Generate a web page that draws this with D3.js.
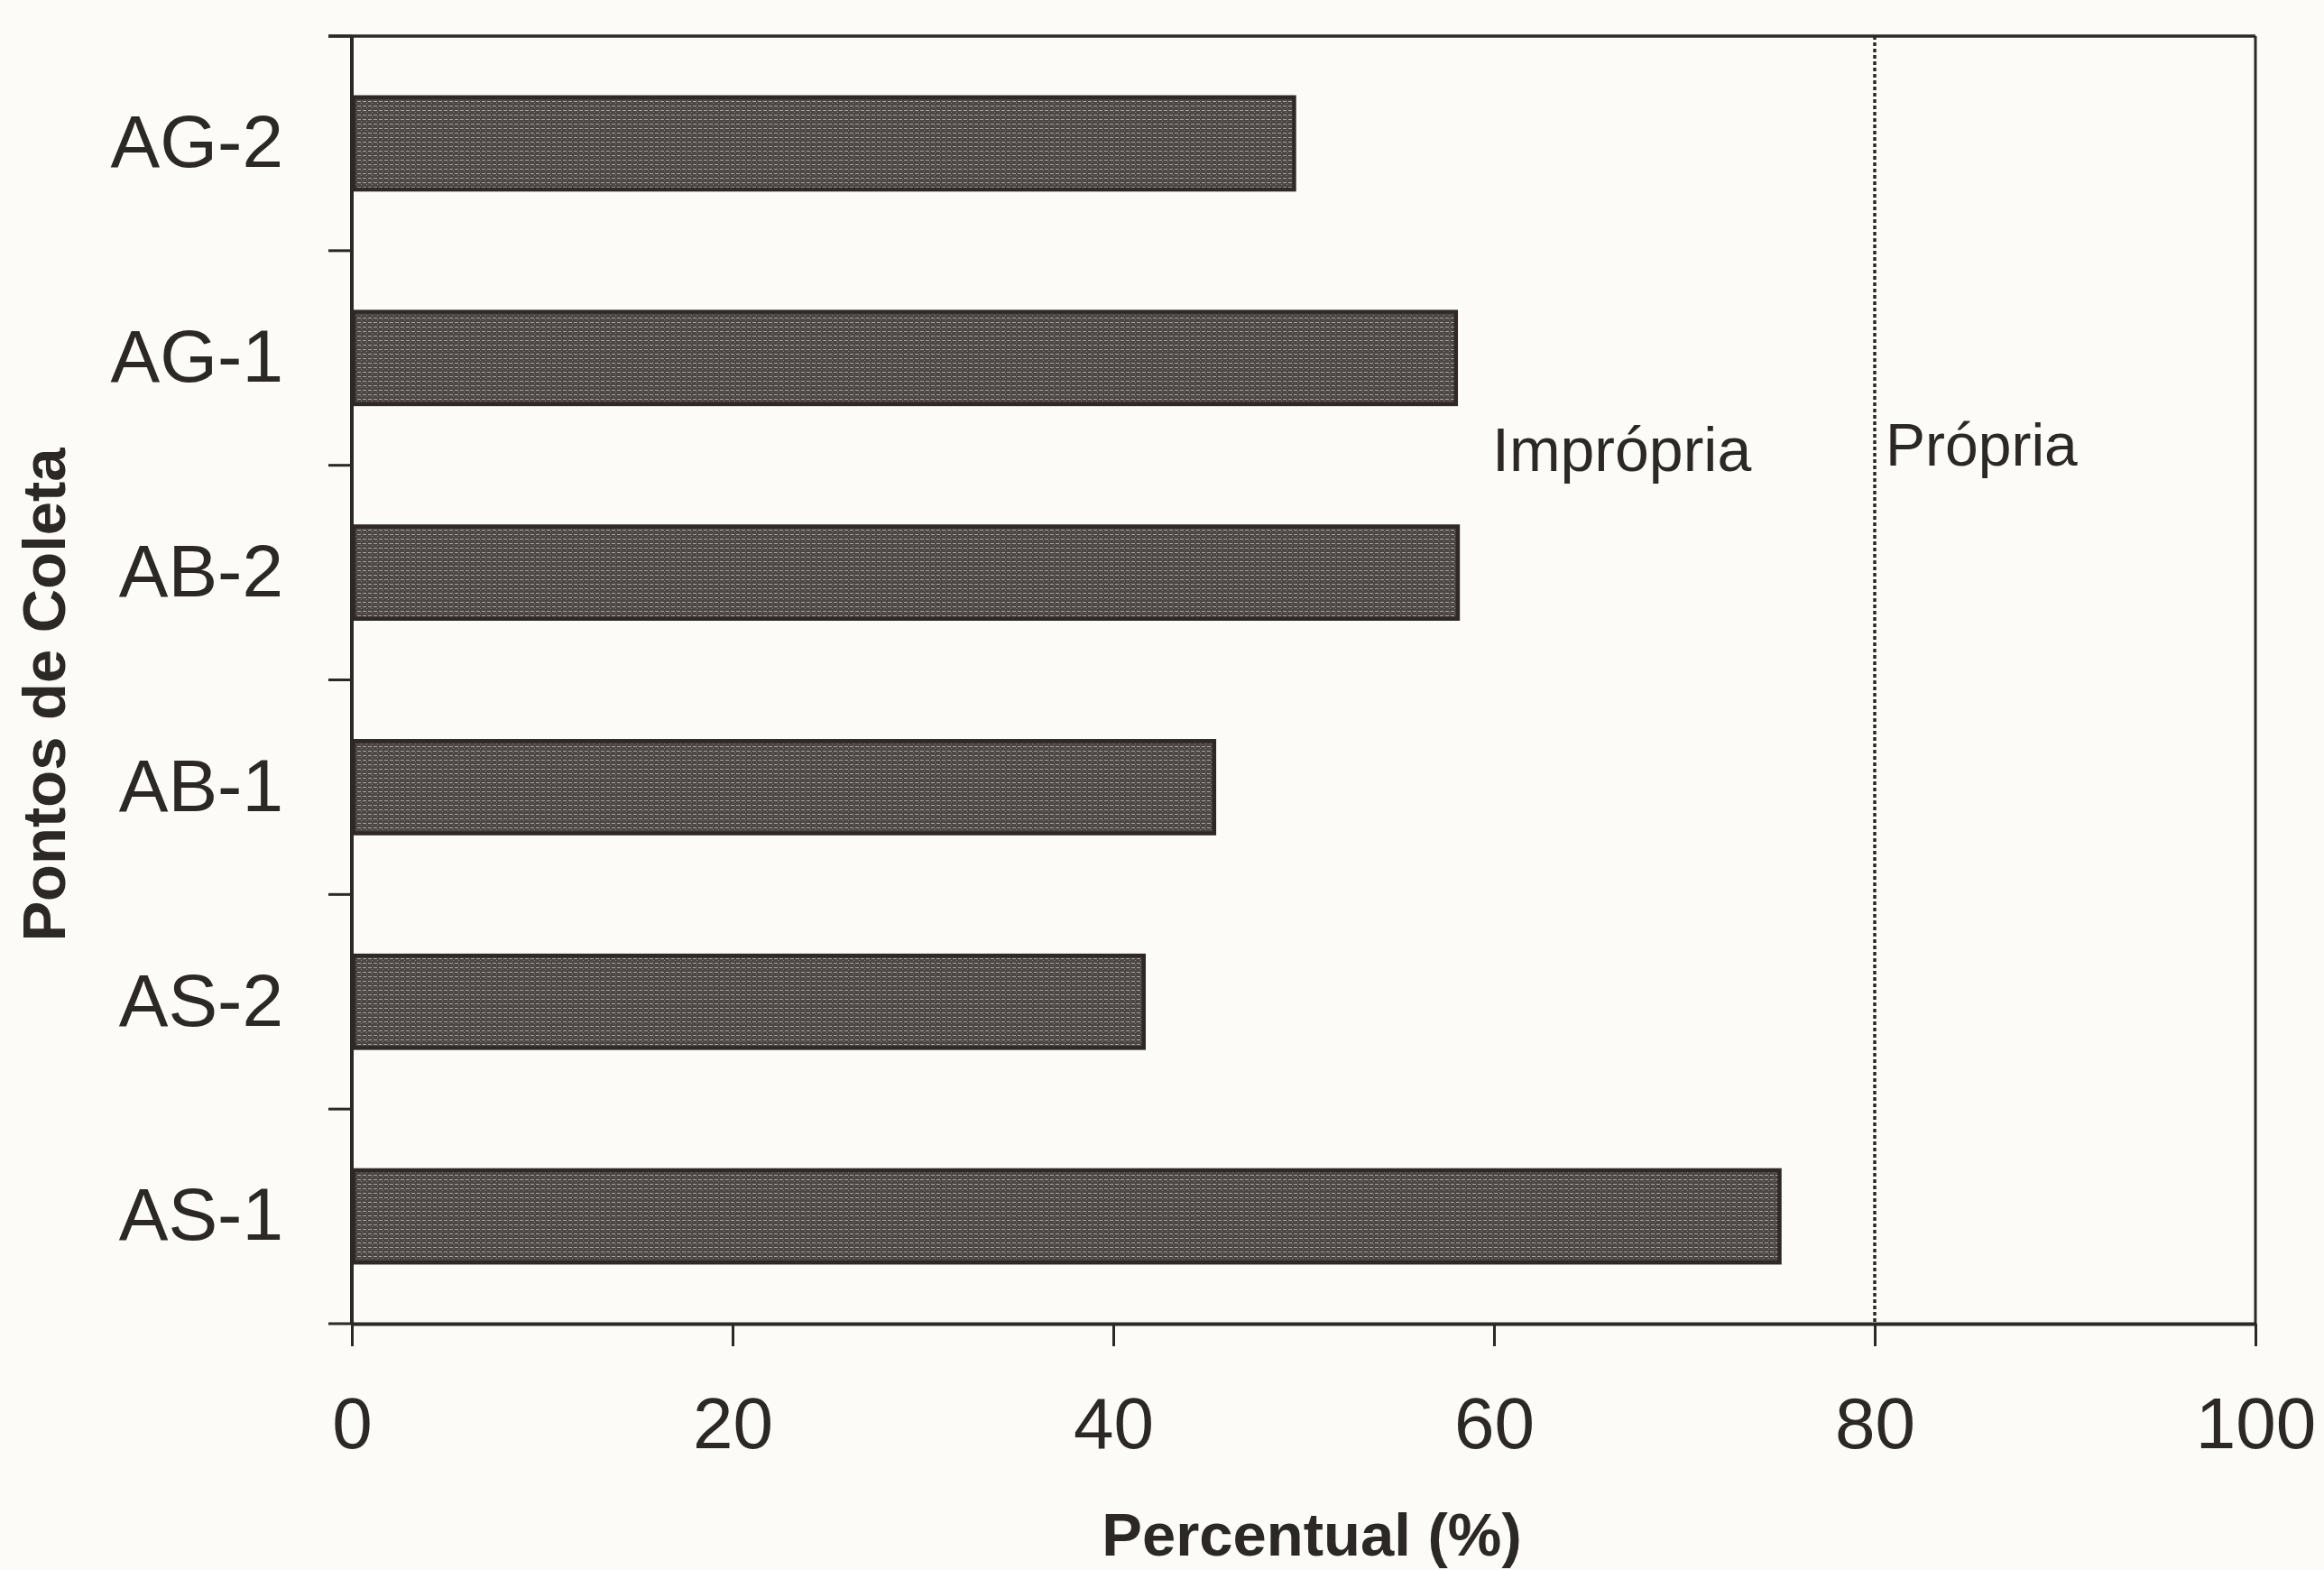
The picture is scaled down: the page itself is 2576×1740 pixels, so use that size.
<!DOCTYPE html>
<html lang="pt">
	<head>
		<meta charset="utf-8">
		<title>Pontos de Coleta - Percentual</title>
		<script type="text/javascript" src="https://d3js.org/d3.v7.min.js"></script>
		<style type="text/css">
			body { margin: 0; background: #fcfbf7; }
			svg { display: block; font-family: "Liberation Sans", Arial, sans-serif; }
			.axis path, .axis line { stroke: #2b2826; }
			.axis text { fill: #2b2826; }
		</style>
	</head>
	<body>
		<script type="text/javascript">

			// data, top to bottom as in the figure
			var pontos = ["AG-2", "AG-1", "AB-2", "AB-1", "AS-2", "AS-1"];
			var percentual = [49.5, 58, 58.1, 45.3, 41.6, 75];
			var xTicks = [0, 20, 40, 60, 80, 100];
			var limite = 80;
			var faixas = ["Imprópria", "Própria"];

			var w = 2576;
			var h = 1740;
			var margin = { top: 40, right: 76, bottom: 273, left: 390 };

			var svg = d3.select("body")
						.append("svg")
						.attr("width", w)
						.attr("height", h);

			svg.append("rect")
				.attr("width", w)
				.attr("height", h)
				.attr("fill", "#fcfbf7");

			// halftone-ish fill of the scanned bars
			var pat = svg.append("defs").append("pattern")
				.attr("id", "grain")
				.attr("patternUnits", "userSpaceOnUse")
				.attr("width", 6)
				.attr("height", 5);
			pat.append("rect").attr("width", 6).attr("height", 5).attr("fill", "#4c4644");
			pat.append("rect").attr("x", 0).attr("y", 2).attr("width", 4).attr("height", 1).attr("fill", "#aaa4a0");
			pat.append("rect").attr("x", 4).attr("y", 4).attr("width", 1).attr("height", 1).attr("fill", "#8a8482");

			var x = d3.scaleLinear()
				.domain([0, 100])
				.range([margin.left, w - margin.right]);

			var y = d3.scaleBand()
				.domain(pontos)
				.range([margin.top, h - margin.bottom])
				.paddingInner(0.57)
				.paddingOuter(0.285);

			var x0 = x(0), x1 = x(100), y0 = margin.top, y1 = h - margin.bottom;

			// bars
			svg.selectAll("rect.bar")
				.data(pontos)
				.enter()
				.append("rect")
				.attr("class", "bar")
				.attr("x", x0 + 2)
				.attr("y", function(d) { return y(d); })
				.attr("width", function(d, i) { return x(percentual[i]) - x0 - 2; })
				.attr("height", y.bandwidth())
				.attr("fill", "url(#grain)")
				.attr("stroke", "#2e2927")
				.attr("stroke-width", 4.5);

			// frame: top and right
			svg.append("line")
				.attr("x1", x0 - 26).attr("x2", x1)
				.attr("y1", y0).attr("y2", y0)
				.attr("stroke", "#2b2826").attr("stroke-width", 3.5);
			svg.append("line")
				.attr("x1", x1).attr("x2", x1)
				.attr("y1", y0).attr("y2", y1)
				.attr("stroke", "#2b2826").attr("stroke-width", 3);

			// threshold line
			svg.append("line")
				.attr("x1", x(limite)).attr("x2", x(limite))
				.attr("y1", y0).attr("y2", y1)
				.attr("stroke", "#2b2826")
				.attr("stroke-width", 3.5)
				.attr("stroke-dasharray", "4,3");

			svg.append("text")
				.text(faixas[0])
				.attr("x", x(limite) - 424)
				.attr("y", 522)
				.attr("font-size", "68px")
				.attr("fill", "#2b2826");
			svg.append("text")
				.text(faixas[1])
				.attr("x", x(limite) + 12)
				.attr("y", 516)
				.attr("font-size", "66px")
				.attr("fill", "#2b2826");

			// x axis
			var xAxis = d3.axisBottom(x)
				.tickValues(xTicks)
				.tickSize(25)
				.tickSizeOuter(0)
				.tickPadding(56);

			var gx = svg.append("g")
				.attr("class", "axis")
				.attr("transform", "translate(0," + y1 + ")")
				.call(xAxis);
			gx.select(".domain").attr("stroke-width", 4);
			gx.selectAll(".tick line").attr("stroke-width", 3);
			gx.selectAll("text")
				.attr("font-size", "80px")
				.attr("font-family", "Liberation Sans, Arial, sans-serif");

			// y axis: labels at band centres, ticks at band boundaries
			var yAxis = d3.axisLeft(y)
				.tickSize(0)
				.tickPadding(76);

			var gy = svg.append("g")
				.attr("class", "axis")
				.attr("transform", "translate(" + x0 + ",0)")
				.call(yAxis);
			gy.select(".domain").remove();
			gy.selectAll("text")
				.attr("font-size", "82px")
				.attr("font-family", "Liberation Sans, Arial, sans-serif");

			svg.append("line")
				.attr("x1", x0).attr("x2", x0)
				.attr("y1", y0).attr("y2", y1)
				.attr("stroke", "#2b2826").attr("stroke-width", 4);

			var bounds = pontos.map(function(d) { return y(d) - y.step() * y.paddingInner() / 2; });
			bounds.push(y1);
			svg.selectAll("line.ytick")
				.data(bounds)
				.enter()
				.append("line")
				.attr("class", "ytick")
				.attr("x1", x0 - 26).attr("x2", x0)
				.attr("y1", function(d) { return d; })
				.attr("y2", function(d) { return d; })
				.attr("stroke", "#2b2826")
				.attr("stroke-width", 3);

			// axis titles
			svg.append("text")
				.text("Percentual (%)")
				.attr("x", 1454)
				.attr("y", 1724)
				.attr("text-anchor", "middle")
				.attr("font-size", "67px")
				.attr("font-weight", "bold")
				.attr("fill", "#2b2826");

			svg.append("text")
				.text("Pontos de Coleta")
				.attr("transform", "translate(72,770) rotate(-90)")
				.attr("text-anchor", "middle")
				.attr("font-size", "67px")
				.attr("font-weight", "bold")
				.attr("fill", "#2b2826");

		</script>
	</body>
</html>
